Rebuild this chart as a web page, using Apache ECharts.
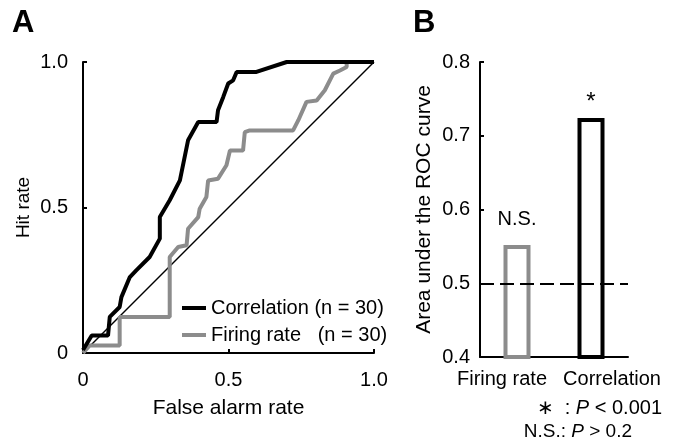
<!DOCTYPE html>
<html>
<head>
<meta charset="utf-8">
<script src="https://cdn.jsdelivr.net/npm/echarts@6/dist/echarts.min.js"></script>
<style>
  html, body { margin: 0; padding: 0; background: #fff; }
  #chart { width: 677px; height: 443px; }
</style>
</head>
<body>
<div id="chart"></div>
<script>
// panel A: ROC curves, [false alarm rate, hit rate]
const correlationRoc = [
  [0, 0.01], [0.03, 0.06], [0.086, 0.06], [0.092, 0.124], [0.126, 0.158],
  [0.132, 0.192], [0.161, 0.261], [0.183, 0.284], [0.229, 0.33], [0.264, 0.393],
  [0.264, 0.467], [0.298, 0.525], [0.333, 0.593], [0.361, 0.731], [0.396, 0.794],
  [0.459, 0.794], [0.464, 0.834], [0.482, 0.88], [0.499, 0.926], [0.516, 0.937],
  [0.528, 0.966], [0.596, 0.966], [0.7, 1.0], [1.0, 1.0]
];
const firingRoc = [
  [0, 0], [0.023, 0.026], [0.126, 0.026], [0.126, 0.124], [0.298, 0.124],
  [0.298, 0.33], [0.327, 0.364], [0.356, 0.37], [0.361, 0.427], [0.396, 0.467],
  [0.401, 0.496], [0.424, 0.536], [0.43, 0.593], [0.464, 0.599], [0.493, 0.645],
  [0.505, 0.696], [0.55, 0.696], [0.556, 0.759], [0.573, 0.765], [0.722, 0.765],
  [0.74, 0.8], [0.768, 0.863], [0.803, 0.868], [0.831, 0.903], [0.86, 0.96],
  [0.883, 0.971], [0.906, 0.983], [0.906, 1.0]
];
const chanceLine = [[0, 0], [1, 1]];
const legendNames = ['Correlation (n = 30)', 'Firing rate   (n = 30)'];

// panel B: area under the ROC curve
const aucCategories = ['Firing rate', 'Correlation'];
const aucValues = [0.552, 0.724];
const aucMarks = ['N.S.', '*'];
const aucColors = ['#8c8c8c', '#000000'];
const chanceAuc = 0.5;

const font = 'Arial, "Liberation Sans", sans-serif';
const numFmt = v => v === 0 ? '0' : v.toFixed(1);

const chart = echarts.init(document.getElementById('chart'));

chart.setOption({
  animation: false,
  textStyle: { fontFamily: font },
  grid: [
    { left: 83, top: 62, width: 291, height: 291 },
    { left: 480, top: 62, width: 148, height: 295 }
  ],
  xAxis: [
    {
      gridIndex: 0, type: 'value', min: 0, max: 1, interval: 0.5,
      name: 'False alarm rate', nameLocation: 'middle', nameGap: 45,
      nameTextStyle: { color: '#000', fontSize: 21, fontFamily: font },
      axisLine: { lineStyle: { color: '#000', width: 2 } },
      axisTick: { inside: true, length: 4, lineStyle: { color: '#000', width: 2 } },
      axisLabel: { color: '#000', fontSize: 20, margin: 17, formatter: numFmt },
      splitLine: { show: false }
    },
    {
      gridIndex: 1, type: 'category', data: aucCategories,
      axisLine: { lineStyle: { color: '#000', width: 2 } },
      axisTick: { inside: true, length: 5, lineStyle: { color: '#000', width: 2 } },
      axisLabel: {
        color: '#000', fontSize: 20, margin: 12, interval: 0, hideOverlap: false,
        formatter: (v, i) => i === 0 ? '{l|' + v + '}' : '{r|' + v + '}',
        rich: {
          l: { fontSize: 20, fontFamily: font, color: '#000', padding: [0, 30, 0, 0] },
          r: { fontSize: 20, fontFamily: font, color: '#000', padding: [0, 0, 0, 42] }
        }
      },
      splitLine: { show: false }
    }
  ],
  yAxis: [
    {
      gridIndex: 0, type: 'value', min: 0, max: 1, interval: 0.5,
      name: 'Hit rate', nameLocation: 'middle', nameGap: 50,
      nameTextStyle: { color: '#000', fontSize: 19, fontFamily: font },
      axisLine: { show: true, lineStyle: { color: '#000', width: 2 } },
      axisTick: { show: true, inside: true, length: 4, lineStyle: { color: '#000', width: 2 } },
      axisLabel: { color: '#000', fontSize: 20, margin: 15, formatter: numFmt },
      splitLine: { show: false }
    },
    {
      gridIndex: 1, type: 'value', min: 0.4, max: 0.8, interval: 0.1,
      name: 'Area under the ROC curve', nameLocation: 'middle', nameGap: 45,
      nameTextStyle: { color: '#000', fontSize: 21, fontFamily: font },
      axisLine: { show: true, lineStyle: { color: '#000', width: 2 } },
      axisTick: { show: true, inside: true, length: 4, lineStyle: { color: '#000', width: 2 } },
      axisLabel: { color: '#000', fontSize: 20, margin: 10, formatter: v => v.toFixed(1) },
      splitLine: { show: false }
    }
  ],
  legend: {
    orient: 'vertical', left: 177, top: 293, itemGap: 7,
    itemWidth: 24, itemHeight: 4, icon: 'rect',
    textStyle: { color: '#000', fontSize: 20, fontFamily: font },
    data: legendNames
  },
  series: [
    {
      name: 'chance', type: 'line', xAxisIndex: 0, yAxisIndex: 0,
      data: chanceLine, symbol: 'none', silent: true,
      lineStyle: { color: '#000', width: 1.5 }
    },
    {
      name: legendNames[1], type: 'line', xAxisIndex: 0, yAxisIndex: 0,
      data: firingRoc, symbol: 'none', itemStyle: { color: '#8c8c8c' },
      lineStyle: { color: '#8c8c8c', width: 4 }
    },
    {
      name: legendNames[0], type: 'line', xAxisIndex: 0, yAxisIndex: 0,
      data: correlationRoc, symbol: 'none', itemStyle: { color: '#000' },
      lineStyle: { color: '#000', width: 4 }
    },
    {
      name: 'AUC', type: 'bar', xAxisIndex: 1, yAxisIndex: 1,
      barWidth: 27,
      data: aucValues.map((v, i) => ({
        value: v,
        itemStyle: { color: 'rgba(0,0,0,0)', borderColor: aucColors[i], borderWidth: 4 },
        label: {
          show: true, position: 'top', distance: i === 0 ? 15 : 4,
          formatter: aucMarks[i], color: '#000', fontSize: i === 0 ? 20 : 24
        }
      })),
      markLine: {
        silent: true, symbol: 'none', label: { show: false },
        lineStyle: { color: '#000', type: [14, 6], width: 2 },
        data: [{ yAxis: chanceAuc }]
      }
    }
  ],
  graphic: [
    { type: 'text', left: 12, top: 8, style: { text: 'A', fontSize: 31, fontWeight: 'bold', fill: '#000', fontFamily: font } },
    { type: 'text', left: 413, top: 8, style: { text: 'B', fontSize: 31, fontWeight: 'bold', fill: '#000', fontFamily: font } },
    {
      type: 'text', right: 15, top: 398,
      style: {
        text: '{n|∗  : }{i|P}{n| < 0.001}', fill: '#000', align: 'right',
        rich: { n: { fontSize: 20, fontFamily: font }, i: { fontSize: 20, fontStyle: 'italic', fontFamily: font } }
      }
    },
    {
      type: 'text', right: 45, top: 422,
      style: {
        text: '{n|N.S.: }{i|P}{n| > 0.2}', fill: '#000', align: 'right',
        rich: { n: { fontSize: 19, fontFamily: font }, i: { fontSize: 19, fontStyle: 'italic', fontFamily: font } }
      }
    }
  ]
});
</script>
</body>
</html>
